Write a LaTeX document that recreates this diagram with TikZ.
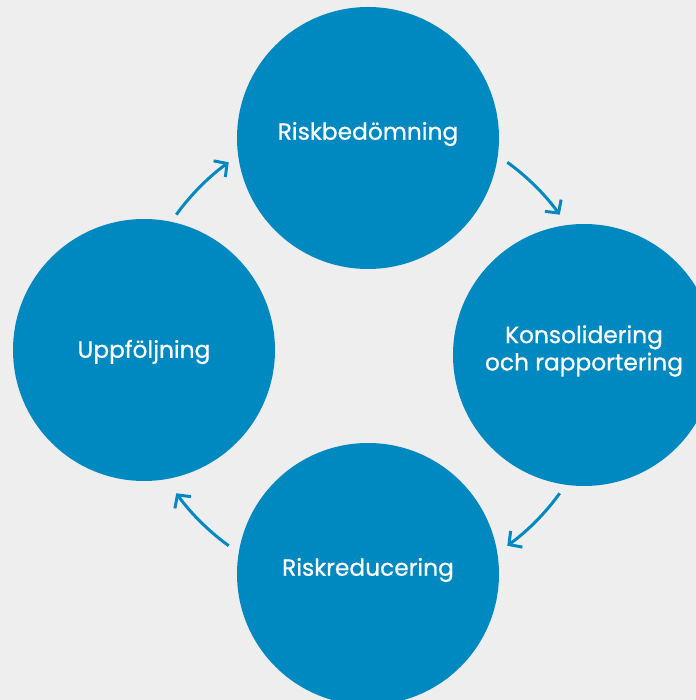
\documentclass[tikz,border=0pt]{standalone}
\usepackage{fontspec}
\setmainfont{Poppins}
\newfontfamily\stagefont[FakeBold=0.7]{Poppins}
\usepackage{xcolor}
\usetikzlibrary{arrows.meta}
\definecolor{riskblue}{HTML}{0089C0}
\definecolor{riskbg}{HTML}{EEEEEE}

\begin{document}
\begin{tikzpicture}[x=0.75pt,y=0.75pt,
    stage/.style={circle,fill=riskblue,minimum size=196.5pt,inner sep=0pt},
    stagetext/.style={text=white,font=\stagefont\fontsize{17.5}{20.5}\selectfont,align=center},
    cycle/.style={draw=riskblue,line width=2.25pt,-{Straight Barb[length=7pt,width=15pt]}}]
    % Background
    \fill[riskbg] (0,0) rectangle (696,700);
    \useasboundingbox (0,0) rectangle (696,700);
    \clip (0,0) rectangle (696,700);
    \coordinate (mid) at (368,346);

    % Circles
    \node[stage] (bed) at (368,562) {};
    \node[stage] (kons) at (584,345) {};
    \node[stage] (red) at (368,126) {};
    \node[stage] (upp) at (144,350) {};

    % Texts
    \node[stagetext] (bedtext) at ([yshift=3pt]bed.center) {Riskbedömning};
    \node[stagetext] (konstext) at ([yshift=3pt]kons.center) {Konsolidering\\och rapportering};
    \node[stagetext] (redtext) at ([yshift=3pt]red.center) {Riskreducering};
    \node[stagetext] (upptext) at ([yshift=-1.5pt]upp.center) {Uppföljning};

    % Arrows between the stages
    \draw[cycle] (mid) ++(54:237) arc[start angle=54,end angle=36,radius=237];
    \draw[cycle] (mid) ++(-36:237) arc[start angle=-36,end angle=-54,radius=237];
    \draw[cycle] (mid) ++(234:237) arc[start angle=234,end angle=216,radius=237];
    \draw[cycle] (mid) ++(144:237) arc[start angle=144,end angle=126,radius=237];
\end{tikzpicture}
\end{document}
